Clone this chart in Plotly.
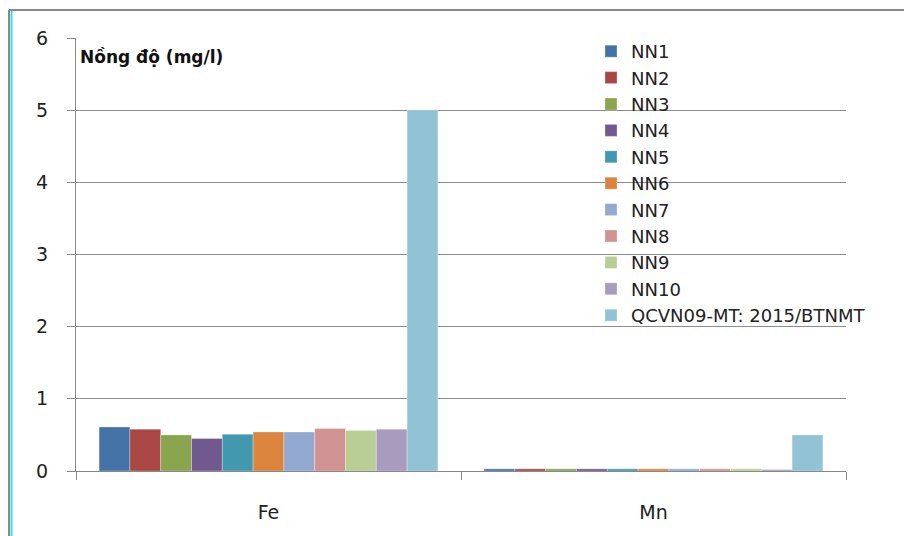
import plotly.graph_objects as go

categories = ["Fe", "Mn"]
series_names = ["NN1", "NN2", "NN3", "NN4", "NN5", "NN6", "NN7", "NN8", "NN9", "NN10",
                "QCVN09-MT: 2015/BTNMT"]
fe_values = [0.61, 0.58, 0.50, 0.45, 0.51, 0.54, 0.54, 0.59, 0.56, 0.58, 5.0]
mn_values = [0.03, 0.03, 0.03, 0.03, 0.03, 0.03, 0.03, 0.03, 0.03, 0.02, 0.5]
colors = ["#4572A7", "#AA4643", "#89A54E", "#71588F", "#4198AF", "#DB843D",
          "#93A9CF", "#D19392", "#B9CD96", "#A99BBD", "#92C3D5"]
y_ticks = [0, 1, 2, 3, 4, 5, 6]

fig = go.Figure()
for i, name in enumerate(series_names):
    fig.add_trace(go.Bar(
        x=categories, y=[fe_values[i], mn_values[i]], name=name,
        marker=dict(color=colors[i], line=dict(width=0.5, color="rgba(255,255,255,0.6)")),
    ))

# page body has an 8px offset; work in viewport pixel coordinates
OFF = 8
W, H = 912 - OFF, 536 - OFF
L, R, T, B = 76 - OFF, 66, 38 - OFF, 65
pw, ph = W - L - R, H - T - B

def px(x):
    return (x - OFF - L) / pw

def py(y):
    return (H - B - (y - OFF)) / ph

fig.update_layout(
    width=W, height=H,
    margin=dict(l=L, r=R, t=T, b=B, pad=0),
    paper_bgcolor="white", plot_bgcolor="white",
    barmode="group", bargap=0.12, bargroupgap=0,
    font=dict(family="DejaVu Sans", size=18, color="#222222"),
    showlegend=True,
    legend=dict(x=px(591), y=py(33), xanchor="left", yanchor="top", maxheight=420,
                bgcolor="rgba(0,0,0,0)", font=dict(family="DejaVu Sans", size=18, color="#222222"),
                traceorder="normal", itemwidth=30),
    xaxis=dict(showgrid=False, showline=True, linecolor="#888888", linewidth=1,
               ticks="outside", tickson="boundaries", ticklen=8, tickcolor="#888888",
               ticklabelstandoff=24, tickfont=dict(size=19)),
    yaxis=dict(range=[0, 6], tickvals=y_ticks, showgrid=True, gridcolor="#8c8c8c", gridwidth=1,
               showline=True, linecolor="#888888", linewidth=1, zeroline=False,
               ticks="outside", ticklen=8, tickcolor="#888888", ticklabelstandoff=15,
               tickfont=dict(size=19)),
    annotations=[dict(text="<b>Nồng độ (mg/l)</b>", x=px(78), y=py(57), xref="paper", yref="paper",
                      xanchor="left", yanchor="middle", showarrow=False,
                      font=dict(family="DejaVu Sans", size=17, color="#111111"))],
    shapes=[
        dict(type="line", xref="paper", yref="paper", x0=px(9), x1=px(920), y0=py(10), y1=py(10),
             line=dict(color="#8a8a8a", width=2)),
        dict(type="line", xref="paper", yref="paper", x0=px(9), x1=px(9), y0=py(10), y1=py(540),
             line=dict(color="#8a8a8a", width=2)),
        dict(type="line", xref="paper", yref="paper", x0=px(11.5), x1=px(11.5), y0=py(11), y1=py(540),
             line=dict(color="#33e0e8", width=2)),
    ],
)

fig.write_html("out.html")
